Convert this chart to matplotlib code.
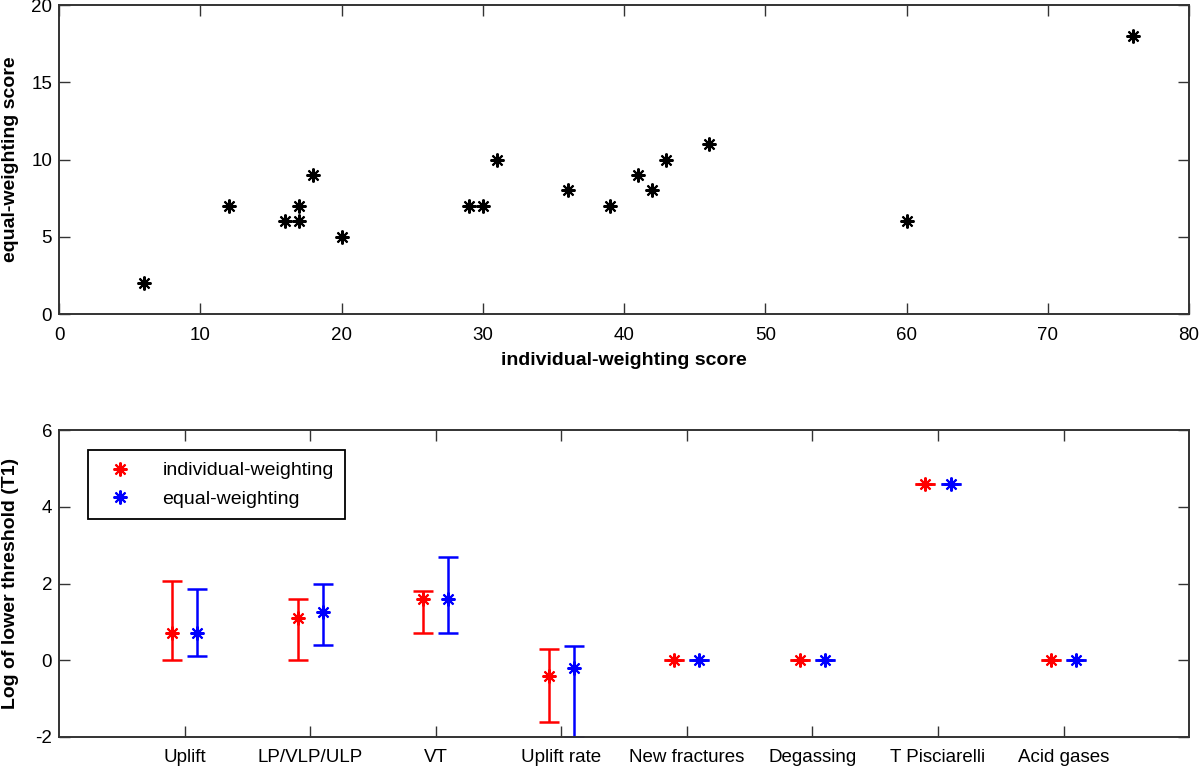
import matplotlib
matplotlib.use('Agg')
import matplotlib.pyplot as plt
from matplotlib.lines import Line2D
import numpy as np

plt.rcParams['font.family'] = ['Liberation Sans', 'DejaVu Sans']
plt.rcParams['axes.unicode_minus'] = False

# --- dados do painel superior ---
indiv_score = [6, 12, 16, 17, 17, 18, 20, 29, 30, 31, 36, 39, 41, 42, 43, 46, 60, 76]
equal_score = [2, 7, 6, 6, 7, 9, 5, 7, 7, 10, 8, 7, 9, 8, 10, 11, 6, 18]

# --- dados do painel inferior ---
categories = ['Uplift', 'LP/VLP/ULP', 'VT', 'Uplift rate', 'New fractures',
              'Degassing', 'T Pisciarelli', 'Acid gases']
indiv_val = [0.7, 1.1, 1.6, -0.4, 0, 0, 4.6, 0]
indiv_lo = [0.0, 0.0, 0.7, -1.6, 0, 0, 4.6, 0]
indiv_hi = [2.07, 1.6, 1.8, 0.3, 0, 0, 4.6, 0]
equal_val = [0.7, 1.27, 1.6, -0.2, 0, 0, 4.6, 0]
equal_lo = [0.12, 0.4, 0.7, -2.0, 0, 0, 4.6, 0]
equal_hi = [1.87, 2.0, 2.7, 0.37, 0, 0, 4.6, 0]

STAR = (8, 2, 0)  # asterisco estilo MATLAB

fig = plt.figure(figsize=(12, 7.71), dpi=100)
ax1 = fig.add_axes([0.0492, 0.5927, 0.9417, 0.4008])
ax2 = fig.add_axes([0.0492, 0.0441, 0.9417, 0.398])

def matlab_style(ax):
    ax.tick_params(direction='in', top=True, right=True, length=8, width=1.0,
                   labelsize=13.5, color='#333333')
    ax.tick_params(axis='x', pad=9)
    ax.tick_params(axis='y', pad=5)
    for s in ax.spines.values():
        s.set_linewidth(1.4)
        s.set_color('#333333')

# Painel superior
ax1.plot(indiv_score, equal_score, linestyle='none', marker=STAR, color='black',
         markersize=10, markeredgewidth=1.5)
ax1.set_xlim(0, 80)
ax1.set_ylim(0, 20)
ax1.set_xticks(np.arange(0, 81, 10))
ax1.set_yticks(np.arange(0, 21, 5))
ax1.set_xlabel('individual-weighting score', fontsize=14, fontweight='bold', labelpad=6)
ax1.set_ylabel('equal-weighting score', fontsize=14, fontweight='bold')
ax1.yaxis.set_label_coords(-0.035, 0.5)
matlab_style(ax1)

# Painel inferior
x = np.arange(1, len(categories) + 1)
iv = np.array(indiv_val)
ev = np.array(equal_val)
ierr = [iv - np.array(indiv_lo), np.array(indiv_hi) - iv]
eerr = [ev - np.array(equal_lo), np.array(equal_hi) - ev]
ax2.errorbar(x - 0.1, iv, yerr=ierr, fmt='none', ecolor='red',
             capsize=7, capthick=1.8, elinewidth=1.8)
ax2.errorbar(x + 0.1, ev, yerr=eerr, fmt='none', ecolor='blue',
             capsize=7, capthick=1.8, elinewidth=1.8)
ax2.plot(x - 0.1, iv, linestyle='none', marker=STAR, color='red',
         markersize=10, markeredgewidth=1.5)
ax2.plot(x + 0.1, ev, linestyle='none', marker=STAR, color='blue',
         markersize=10, markeredgewidth=1.5)
ax2.set_xlim(0, 9)
ax2.set_ylim(-2, 6)
ax2.set_xticks(x)
ax2.set_xticklabels(categories)
ax2.set_yticks(np.arange(-2, 7, 2))
ax2.set_ylabel('Log of lower threshold (T1)', fontsize=14, fontweight='bold')
ax2.yaxis.set_label_coords(-0.035, 0.5)
matlab_style(ax2)

handles = [Line2D([], [], linestyle='none', marker=STAR, color='red',
                  markersize=10, markeredgewidth=1.5),
           Line2D([], [], linestyle='none', marker=STAR, color='blue',
                  markersize=10, markeredgewidth=1.5)]
leg = ax2.legend(handles, ['individual-weighting', 'equal-weighting'],
                 loc='upper left', bbox_to_anchor=(0.026, 0.935), fontsize=14,
                 fancybox=False, edgecolor='black', framealpha=1,
                 handlelength=2.0, handletextpad=1.2, borderpad=0.6,
                 labelspacing=0.55, borderaxespad=0)
leg.get_frame().set_linewidth(1.3)

fig.savefig('out.png', dpi=100)
